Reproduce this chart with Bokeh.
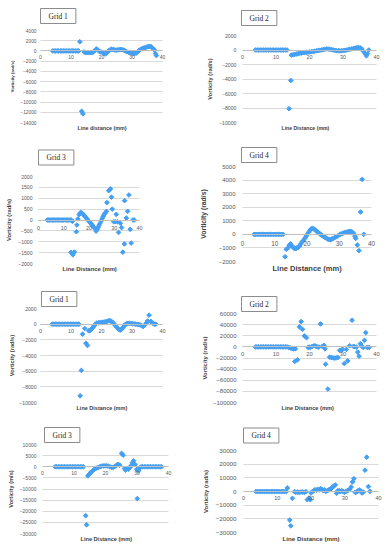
from bokeh.plotting import figure
from bokeh.models import (Range1d, FixedTicker, Title, BasicTickFormatter,
                          LinearAxis, BoxAnnotation)
from bokeh.layouts import column, row
from bokeh.embed import file_html
from bokeh.resources import INLINE

# ---------------- data ----------------
x_ticks = [0, 10, 20, 30, 40]

# Panel 1: Grid 1 (top)
g1a_x = [4.0, 4.5, 5.0, 5.5, 6.0, 6.5, 7.0, 7.5, 8.0, 8.5, 9.0, 9.5, 10.0, 10.5, 11.0, 11.5, 12.0, 12.5,
         12.9, 13.5, 13.9,
         14.3, 14.8, 15.3, 15.8, 16.3, 16.8, 17.3,
         17.8, 18.3, 18.8, 19.3, 19.8, 20.3, 20.8, 21.3, 21.8, 22.3,
         22.8, 23.3, 23.8, 24.3, 24.8, 25.3, 25.8, 26.3, 26.8, 27.3,
         27.8, 28.3, 28.8, 29.3, 29.8, 30.3, 30.8, 31.3, 31.8, 32.3,
         32.8, 33.3, 33.8, 34.3, 34.8, 35.3, 35.8, 36.3, 36.8, 37.3,
         37.7, 38.0]
g1a_y = [0, 0, 0, 0, 0, 0, 0, 0, 0, 0, 0, 0, 0, 0, 0, 0, 0, 0,
         1800, -11800, -12300,
         -200, -350, -300, -350, -300, -350, -200,
         100, 400, 200, -100, -200, -300, -500, -600, -300, 0,
         200, 350, 250, 200, 150, 200, 250, 300, 250, 150,
         0, -150, -250, -350, -400, -450, -500, -450, -200, 100,
         300, 450, 550, 650, 750, 850, 900, 800, 500, 200,
         -500, -900]

# Panel 2: Grid 2 (top)
g2a_x = [3.8, 4.3, 4.8, 5.3, 5.8, 6.3, 6.8, 7.3, 7.8, 8.3, 8.8, 9.3, 9.8, 10.3, 10.8, 11.3, 11.8, 12.3, 12.8, 13.3,
         13.9, 14.4,
         14.6, 15.1, 15.6, 16.1, 16.6, 17.1, 17.6, 18.1, 18.6, 19.1,
         19.6, 20.1, 20.6, 21.1, 21.6, 22.1, 22.6, 23.1, 23.6, 24.1,
         24.6, 25.1, 25.6, 26.1, 26.6, 27.1, 27.6, 28.1, 28.6, 29.1,
         29.6, 30.1, 30.6, 31.1, 31.6, 32.1, 32.6, 33.1, 33.6, 34.1,
         34.6, 35.1, 35.6, 36.1, 36.6, 37.0, 37.3, 37.7]
g2a_y = [0, 0, 0, 0, 0, 0, 0, 0, 0, 0, 0, 0, 0, 0, 0, 0, 0, 0, 0, 0,
         -8100, -4200,
         -700, -650, -600, -550, -500, -450, -420, -380, -350, -320,
         -300, -270, -230, -200, -160, -120, -70, -30, 0, 50,
         100, 150, 130, 90, 50, 0, -50, -100, -100, -120,
         -100, -80, -50, 0, 50, 100, 150, 200, 250, 300,
         350, 300, 150, -200, -500, -800, -500, 0]

# Panel 3: Grid 3 (top)
g3a_x = [3.5, 4.0, 4.5, 5.0, 5.5, 6.0, 6.5, 7.0, 7.5, 8.0, 8.5, 9.0, 9.5, 10.0, 10.5, 11.0, 11.5, 12.0, 12.5, 13.0, 13.4,
         12.9, 13.6, 14.2, 15.0, 15.2, 15.6, 16.1, 16.7, 17.2,
         17.7, 18.2, 18.7, 19.2, 19.7, 20.2, 20.7, 21.2, 21.7, 22.2,
         22.8, 23.2, 23.6, 24.0, 24.4, 24.8, 25.2, 25.6, 26.0, 26.5,
         26.9, 27.1, 27.8, 28.5, 28.9, 29.2, 29.8, 30.4, 30.8, 31.3,
         31.7, 32.4, 32.9, 33.4, 34.0, 34.1, 34.8, 35.3, 35.8, 36.3,
         36.7, 37.4, 37.9]
g3a_y = [0, 0, 0, 0, 0, 0, 0, 0, 0, 0, 0, 0, 0, 0, 0, 0, 0, 0, 0, 0, -60,
         -1490, -1600, -1470, -540, -230, 50, 250, 350, 320,
         260, 190, 120, 50, -20, -90, -160, -230, -300, -380,
         -510, -440, -340, -240, -140, -40, 60, 160, 260, 330,
         400, 800, 1350, 1430, 1050, 500, -80, -80, 260, -80,
         -570, -150, -350, -1480, -1100, 890, 90, 400, 1150, -430,
         -1060, 0, 0]

# Panel 4: Grid 4 (top)
g4a_x = [3.6, 4.1, 4.6, 5.1, 5.6, 6.1, 6.6, 7.1, 7.6, 8.1, 8.6, 9.1, 9.6, 10.1, 10.6, 11.1, 11.6, 12.1, 12.6,
         13.2, 13.6,
         14.1, 14.5, 14.9, 15.3, 15.7, 16.1, 16.5, 16.9, 17.3, 17.7,
         18.1, 18.5, 18.9, 19.3, 19.7, 20.1, 20.5, 20.9, 21.3, 21.7,
         22.1, 22.5, 22.9, 23.3, 23.7, 24.1, 24.5, 24.9, 25.3, 25.7,
         26.1, 26.5, 26.9, 27.3, 27.7, 28.1, 28.5, 28.9, 29.3, 29.7,
         30.1, 30.5, 30.9, 31.3, 31.7, 32.1, 32.5, 32.9, 33.3, 33.7,
         34.1, 34.5, 34.9, 35.1, 35.6, 36.1, 36.6, 37.1, 37.6]
g4a_y = [0, 0, 0, 0, 0, 0, 0, 0, 0, 0, 0, 0, 0, 0, 0, 0, 0, 0, 0,
         -1650, -1100,
         -1000, -800, -700, -850, -950, -1050, -1050, -1000, -950, -850,
         -700, -550, -450, -300, -150, 0, 150, 300, 400, 450,
         400, 330, 250, 170, 100, 20, -50, -120, -180, -240,
         -300, -350, -380, -400, -350, -300, -250, -200, -150, -80,
         -30, 20, 60, 100, 130, 150, 180, 200, 220, 200,
         150, 50, -150, -300, -780, -1200, 1650, 4050, 0]

# Panel 5: Grid 1 (bottom)
g1b_x = [3.8, 4.3, 4.8, 5.3, 5.8, 6.3, 6.8, 7.3, 7.8, 8.3, 8.8, 9.3, 9.8, 10.3, 10.8, 11.3, 11.8, 12.3, 12.6,
         13.0, 13.4, 13.8, 14.5, 14.9, 15.4,
         15.8, 16.3, 16.8, 17.2, 17.6, 18.0, 18.5, 19.0, 19.5, 20.0,
         20.5, 21.0, 21.5, 22.0, 22.5, 23.0, 23.4, 23.8, 24.2, 24.6,
         25.0, 25.4, 25.8, 26.2, 26.6, 27.0, 27.4, 27.8, 28.2, 28.7,
         29.2, 29.7, 30.2, 30.7, 31.2, 31.7, 32.2, 32.7, 33.2, 33.6,
         34.1, 34.7, 35.1, 35.6, 36.2, 36.8, 37.3, 37.8]
g1b_y = [0, 0, 0, 0, 0, 0, 0, 0, 0, 0, 0, 0, 0, 0, 0, 0, 0, 0, 0,
         -9150, -5900, -1280, -550, -2430, -2720,
         -850, -800, -600, -400, -200, 0, 150, 180, 200, 220,
         250, 280, 320, 380, 450, 420, 300, 150, 0, -200,
         -400, -550, -700, -750, -650, -450, -250, -50, 50, 100,
         100, 80, 50, 30, 0, -20, -60, -100, -200, -300,
         -150, 150, 400, 1150, 350, 100, 0, 0]

# Panel 6: Grid 2 (bottom)
g2b_x = [3.8, 4.3, 4.8, 5.3, 5.8, 6.3, 6.8, 7.3, 7.8, 8.3, 8.8, 9.3, 9.8, 10.3, 10.8, 11.3, 11.8, 12.3, 12.8, 13.3,
         13.8, 14.3, 14.8, 15.3, 15.8,
         15.6, 16.4, 17.0, 17.5, 17.9, 18.5, 19.1, 19.6, 19.9, 20.3,
         20.8, 21.3, 21.8, 22.3, 22.8, 23.3, 23.8, 24.3, 24.6, 24.8,
         25.5, 26.0, 26.5, 27.0, 27.5, 28.0, 28.5, 29.0, 29.5, 29.9,
         30.4, 31.0, 31.4, 32.0, 32.7, 33.1, 33.5, 34.0, 34.4, 34.8,
         35.2, 35.5, 36.0, 36.4, 36.8, 37.2, 37.8]
g2b_y = [0, 0, 0, 0, 0, 0, 0, 0, 0, 0, 0, 0, 0, 0, 0, 0, 0, 0, 0, 0,
         -1000, -2000, -3000, -3500, -3500,
         -26300, -23300, 36000, 45500, 31600, 19600, 16500, -1000, -400, -1000,
         800, 2000, 1500, 200, -400, 41300, 800, 2700, -3400, -31200,
         -75800, -18500, -19100, -19700, -20300, -19700, -19100, -6400, -5800, -4600,
         -30000, -4600, -25100, 2000, 47900, 800, 200, -400, -9400, -16700,
         5700, 2000, -1000, 11700, 25600, -1000, -1000]

# Panel 7: Grid 3 (bottom)
g3b_x = [4.0, 4.5, 5.0, 5.5, 6.0, 6.5, 7.0, 7.5, 8.0, 8.5, 9.0, 9.5, 10.0, 10.5, 11.0, 11.5, 12.0, 12.5, 13.0,
         13.7, 14.0,
         14.4, 14.7, 15.1, 15.5, 16.0, 16.5, 17.1, 17.7, 18.2, 18.7,
         19.3, 19.8, 20.3, 20.8, 21.4, 21.9, 22.4, 22.8, 23.3, 23.7,
         24.1, 24.5, 25.1, 25.6, 26.0, 26.4, 26.8, 27.3, 27.7, 28.1,
         28.5, 28.9, 29.4, 29.9, 30.1, 30.5, 30.9,
         31.3, 31.8, 32.3, 32.8, 33.3, 33.8, 34.3, 34.8, 35.3, 35.8, 36.3, 36.8, 37.3, 37.8]
g3b_y = [0, 0, 0, 0, 0, 0, 0, 0, 0, 0, 0, 0, 0, 0, 0, 0, 0, 0, 0,
         -22000, -26100,
         -4100, -3500, -2900, -2300, -1700, -1100, -600, -300, 0, 300,
         400, 400, 400, 300, 0, -300, -300, 0, 400, 900,
         1000, 700, 6000, 5200, -800, -1500, -800, -1100, -300, 400,
         1800, 2700, 1000, -1200, -14300, -1800, -500,
         0, 0, 0, 0, 0, 0, 0, 0, 0, 0, 0, 0, 0, 0]

# Panel 8: Grid 4 (bottom)
g4b_x = [3.7, 4.2, 4.7, 5.2, 5.7, 6.2, 6.7, 7.2, 7.7, 8.2, 8.7, 9.2, 9.7, 10.2, 10.7, 11.2, 11.7, 12.2, 12.7,
         13.0, 13.7, 14.0, 14.5, 15.1, 15.5, 16.0, 16.5, 17.0, 17.5,
         18.0, 18.5, 18.9, 19.4, 19.8, 20.0, 20.4, 20.8, 21.2, 21.6,
         22.0, 22.4, 22.8, 23.2, 23.6, 24.0, 24.4, 24.8, 25.2, 25.6,
         26.0, 26.4, 26.8, 27.2, 27.6, 27.9, 28.3, 28.7, 29.1, 29.5,
         29.9, 30.3, 30.7, 31.1, 31.5, 31.9, 32.3, 32.7, 33.1, 33.5,
         33.9, 34.3, 34.7, 35.1, 35.5, 36.0, 36.5, 37.0, 37.5]
g4b_y = [0, 0, 0, 0, 0, 0, 0, 0, 0, 0, 0, 0, 0, 0, 0, 0, 0, 0, 0,
         2600, -20900, -25100, -5000, -100, -600, -400, -600, -400, -400,
         -600, -100, -6000, -4800, -6000, -1100, -100, 600, 1300, 900,
         1600, 1100, 2100, 1600, 600, 1100, 100, 600, 1100, 1600,
         2300, 3300, 4000, 4800, -1300, 400, 600, -100, 600, 100,
         -600, 100, 400, 900, 1800, 3300, 7000, 9400, -600, -400,
         400, 1100, 600, -1100, -400, 15600, 25100, 3600, 100]

ticks_g1a = [-14000, -12000, -10000, -8000, -6000, -4000, -2000, 0, 2000, 4000]
ticks_g2a = [-10000, -8000, -6000, -4000, -2000, 0, 2000]
ticks_g3a = [-2000, -1500, -1000, -500, 0, 500, 1000, 1500, 2000]
ticks_g4a = [-2000, -1000, 0, 1000, 2000, 3000, 4000, 5000]
ticks_g1b = [-10000, -8000, -6000, -4000, -2000, 0, 2000]
ticks_g2b = [-100000, -80000, -60000, -40000, -20000, 0, 20000, 40000, 60000]
ticks_g3b = [-30000, -25000, -20000, -15000, -10000, -5000, 0, 5000, 10000]
ticks_g4b = [-30000, -20000, -10000, 0, 10000, 20000, 30000]

BLUE = "#44a0f4"
LABEL_GREY = "#595959"

# ---------------- layout geometry (pixels) ----------------
# left column: frame from x=34 to x=175 in a 195 px wide figure
# right column: frame from x=237 to x=385 (figure starts at x=195, 196 px wide)
COLS = {"L": dict(x0=0, w=195, fl=34, fr=175), "R": dict(x0=195, w=196, fl=237, fr=385)}


def panel(xs, ys, grid_text, ylabel, xlabel, yticks, col, top, bottom, f_top, f_bot,
          px0, px40, fs_tick, fs_xtick, fs_ylab, fs_xlab, ylab_so, ytick_so, xtick_so,
          box_left, box_gap, xlab_center, xlab_em):
    c = COLS[col]
    n = min(len(xs), len(ys))
    ppm = (px40 - px0) / 40.0
    x_lo = -(px0 - c["fl"]) / ppm
    x_hi = 40 + (c["fr"] - px40) / ppm
    y_lo, y_hi = min(yticks), max(yticks)
    p = figure(width=c["w"], height=bottom - top, x_range=Range1d(x_lo, x_hi),
               y_range=Range1d(y_lo, y_hi), x_axis_location=None,
               output_backend="svg", toolbar_location=None, title=None,
               min_border_left=c["fl"] - c["x0"], min_border_right=c["x0"] + c["w"] - c["fr"],
               min_border_top=f_top - top, min_border_bottom=bottom - f_bot)
    p.outline_line_color = None
    p.background_fill_color = "white"
    p.border_fill_color = "white"
    p.xgrid.grid_line_color = None
    p.ygrid.grid_line_color = "#d9d9d9"

    # mask the grid lines outside 0..40 (the Excel plot area ends at the axis bounds)
    span = y_hi - y_lo
    for l, r in ((x_lo, x_ticks[0]), (x_ticks[-1], x_hi)):
        p.add_layout(BoxAnnotation(left=l, right=r, bottom=y_lo - span, top=y_hi + span,
                                   fill_color="white", fill_alpha=1.0, line_alpha=0,
                                   level="underlay"))

    ya = p.yaxis[0]
    ya.ticker = FixedTicker(ticks=yticks)
    ya.formatter = BasicTickFormatter(use_scientific=False)
    ya.axis_line_color = None
    ya.major_tick_line_color = None
    ya.minor_tick_line_color = None
    ya.major_tick_out = 0
    ya.major_tick_in = 0
    ya.minor_tick_out = 0
    ya.minor_tick_in = 0
    ya.major_label_text_font = "Liberation Sans"
    ya.major_label_text_font_size = f"{fs_tick}px"
    ya.major_label_text_color = LABEL_GREY
    ya.major_label_standoff = ytick_so
    ya.axis_label = ylabel
    ya.axis_label_text_font = "Liberation Sans"
    ya.axis_label_text_font_style = "bold"
    ya.axis_label_text_font_size = f"{fs_ylab}px"
    ya.axis_label_text_color = "#404040"
    ya.axis_label_standoff = ylab_so

    # "Grid N" boxed caption above the plot area
    p.add_layout(Title(text=grid_text, align="left", vertical_align="top",
                       offset=box_left - c["fl"], standoff=max(0, int(round(2 * (box_gap - 2)))),
                       text_font="Liberation Serif", text_font_size="7.5px",
                       text_font_style="normal", text_color="#262626",
                       border_line_color="#8c8c8c", border_line_width=1,
                       background_fill_color="white",
                       padding=dict(left=8, right=8, top=3, bottom=3)), "above")

    # x axis title, right under the plot area
    xlab_w = xlab_em * fs_xlab
    p.add_layout(Title(text=xlabel, align="left",
                       offset=int(round(xlab_center - c["fl"] - xlab_w / 2)),
                       text_font="Liberation Sans",
                       text_font_style="bold", text_font_size=f"{fs_xlab}px",
                       text_color="#404040", standoff=0), "below")

    # Excel-style horizontal axis crossing at y = 0
    xa = LinearAxis(fixed_location=0, ticker=FixedTicker(ticks=x_ticks),
                    bounds=(x_ticks[0], x_ticks[-1]))
    xa.axis_line_color = "#bfbfbf"
    xa.major_tick_line_color = None
    xa.minor_tick_line_color = None
    xa.major_tick_out = 0
    xa.major_tick_in = 0
    xa.minor_tick_out = 0
    xa.minor_tick_in = 0
    xa.major_label_text_font = "Liberation Sans"
    xa.major_label_text_font_size = f"{fs_xtick}px"
    xa.major_label_text_color = LABEL_GREY
    xa.major_label_standoff = xtick_so
    p.add_layout(xa, "below")

    p.scatter(xs[:n], ys[:n], marker="square", angle=0.7854, size=3.3,
              fill_color=BLUE, line_color=BLUE)
    return p


EM_l = 9.11   # "Line distance (mm)" width in em (bold)
EM_L = 9.22   # "Line Distance (mm)"

# left column: figure bands 0-140, 140-284, 284-422, 422-550
p1 = panel(g1a_x, g1a_y, "Grid 1", "Vorticity (rad/s)", "Line distance (mm)", ticks_g1a, "L",
           0, 140, 30, 122, 40, 162, 4.8, 5.0, 4.4, 5.4, 2, -2, 4, 40, 7, 101.3, EM_l)
p3 = panel(g3a_x, g3a_y, "Grid 3", "Vorticity (rad/s)", "Line Distance (mm)", ticks_g3a, "L",
           140, 284, 176, 263, 38, 139, 5.1, 5.4, 5.8, 5.9, 3, 2, 6, 38, 11.5, 88.8, EM_L)
p5 = panel(g1b_x, g1b_y, "Grid 1", "Vorticity (rad/s)", "Line Distance (mm)", ticks_g1b, "L",
           284, 422, 308, 402, 40, 162, 5.1, 5.4, 5.7, 5.5, 1, -2, 5, 41, 2, 101.3, EM_L)
p7 = panel(g3b_x, g3b_y, "Grid 3", "Vorticity (m/s)", "Line Distance (mm)", ticks_g3b, "L",
           422, 550, 444, 533, 42, 168, 5.0, 5.0, 5.7, 5.6, 3, -2, 4, 44, 1, 105.8, EM_L)

# right column: figure bands 0-141, 141-286, 286-422, 422-550
p2 = panel(g2a_x, g2a_y, "Grid 2", "Vorticity (rad/s)", "Line Distance (mm)", ticks_g2a, "R",
           0, 141, 35, 122, 242, 376, 5.2, 5.4, 5.7, 5.2, 3, 1, 5, 241, 10, 305.0, EM_L)
p4 = panel(g4a_x, g4a_y, "Grid 4", "Vorticity (rad/s)", "Line Distance (mm)", ticks_g4a, "R",
           141, 286, 166, 261, 242, 371, 6.0, 6.4, 6.8, 7.5, 9, 2, 7, 241, 4, 306.7, EM_L)
p6 = panel(g2b_x, g2b_y, "Grid 2", "Vorticity (rad/s)", "Line Distance (mm)", ticks_g2b, "R",
           286, 422, 313, 402, 242, 376, 6.0, 5.8, 5.9, 5.7, 2, 1, 5, 241, 2, 307.2, EM_L)
p8 = panel(g4b_x, g4b_y, "Grid 4", "Vorticity (rad/s)", "Line Distance (mm)", ticks_g4b, "R",
           422, 550, 450, 532, 243, 378, 6.2, 5.6, 5.9, 6.2, 4, 1, 4, 243, 7.5, 310.7, EM_L)

layout = row(column(p1, p3, p5, p7), column(p2, p4, p6, p8))

with open("out.html", "w") as f:
    f.write(file_html(layout, INLINE))
